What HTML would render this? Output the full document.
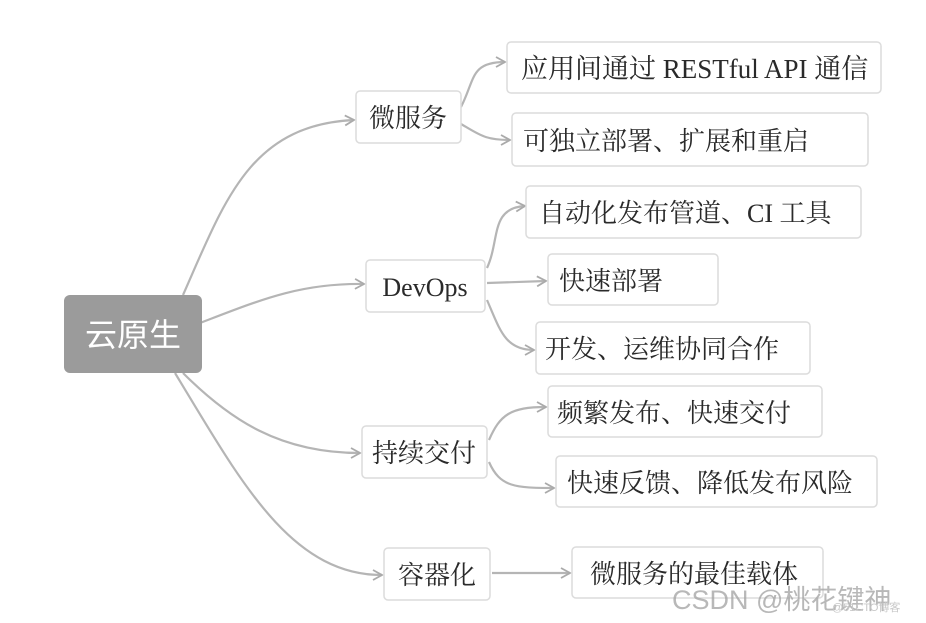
<!DOCTYPE html>
<html><head><meta charset="utf-8"><style>
html,body{margin:0;padding:0;background:#fff;}
body{width:926px;height:623px;overflow:hidden;position:relative;}
svg{position:absolute;left:0;top:0;}
text{font-family:"Liberation Serif","Noto Serif CJK SC",serif;fill:#2a2a2a;}
</style></head><body>
<svg width="926" height="623" viewBox="0 0 926 623">
<defs><marker id="a" markerWidth="12" markerHeight="12" refX="10" refY="6" orient="auto" markerUnits="userSpaceOnUse"><path d="M1,1 L10,6 L1,11" fill="none" stroke="#aaa" stroke-width="1.8"/></marker></defs>
<g fill="none" stroke="#b5b5b5" stroke-width="2.2">
<path d="M183,295 C225,200 250,125 354,120" marker-end="url(#a)"/>
<path d="M200,323 C260,300 300,283 364,284" marker-end="url(#a)"/>
<path d="M183,373 C230,420 280,453 360,453" marker-end="url(#a)"/>
<path d="M175,373 C240,480 290,575 382,575" marker-end="url(#a)"/>
<path d="M461,107 C475,80 470,62 505,62" marker-end="url(#a)"/>
<path d="M461,124 C480,135 485,140 510,140" marker-end="url(#a)"/>
<path d="M487,268 C500,240 490,208 525,206" marker-end="url(#a)"/>
<path d="M487,283 L546,281" marker-end="url(#a)"/>
<path d="M487,300 C500,330 505,350 534,350" marker-end="url(#a)"/>
<path d="M489,440 C500,415 510,407 546,407" marker-end="url(#a)"/>
<path d="M489,462 C500,487 515,488 554,488" marker-end="url(#a)"/>
<path d="M492,573 L570,573" marker-end="url(#a)"/>
</g>
<rect x="64" y="295" width="138" height="78" rx="6" fill="#9b9b9b"/>
<text x="133" y="346" text-anchor="middle" style="font-family:'Liberation Sans','Noto Sans CJK SC',sans-serif;fill:#fff;font-size:32px">云原生</text>
<g fill="#fff" stroke="#dcdcdc" stroke-width="1.5">
<rect x="356" y="91" width="105" height="52" rx="4"/>
<rect x="366" y="260" width="119" height="52" rx="4"/>
<rect x="362" y="426" width="125" height="52" rx="4"/>
<rect x="384" y="548" width="106" height="52" rx="4"/>
<rect x="507" y="42" width="374" height="51" rx="4"/>
<rect x="512" y="113" width="356" height="53" rx="4"/>
<rect x="526" y="186" width="335" height="52" rx="4"/>
<rect x="548" y="254" width="170" height="51" rx="4"/>
<rect x="536" y="322" width="274" height="52" rx="4"/>
<rect x="548" y="386" width="274" height="51" rx="4"/>
<rect x="556" y="456" width="321" height="51" rx="4"/>
<rect x="572" y="547" width="251" height="51" rx="4"/>
</g>
<g font-size="26">
<text x="408" y="127" text-anchor="middle">微服务</text>
<text x="425" y="296" text-anchor="middle">DevOps</text>
<text x="424" y="462" text-anchor="middle">持续交付</text>
<text x="437" y="584" text-anchor="middle">容器化</text>
<text x="521" y="78" font-size="27">应用间通过 RESTful API 通信</text>
<text x="523" y="150">可独立部署、扩展和重启</text>
<text x="539" y="222">自动化发布管道、CI 工具</text>
<text x="559" y="290">快速部署</text>
<text x="545" y="358">开发、运维协同合作</text>
<text x="557" y="422">频繁发布、快速交付</text>
<text x="567" y="492">快速反馈、降低发布风险</text>
<text x="590" y="583">微服务的最佳载体</text>
</g>
<text x="672" y="609" style="font-family:'Liberation Sans','Noto Sans CJK SC',sans-serif;font-size:27px;fill:rgba(160,160,160,0.75)">CSDN @桃花键神</text>
<text x="832" y="611" style="font-family:'Liberation Sans','Noto Sans CJK SC',sans-serif;font-size:11px;fill:#c8c8c8">@51CTO博客</text>
</svg>
</body></html>
